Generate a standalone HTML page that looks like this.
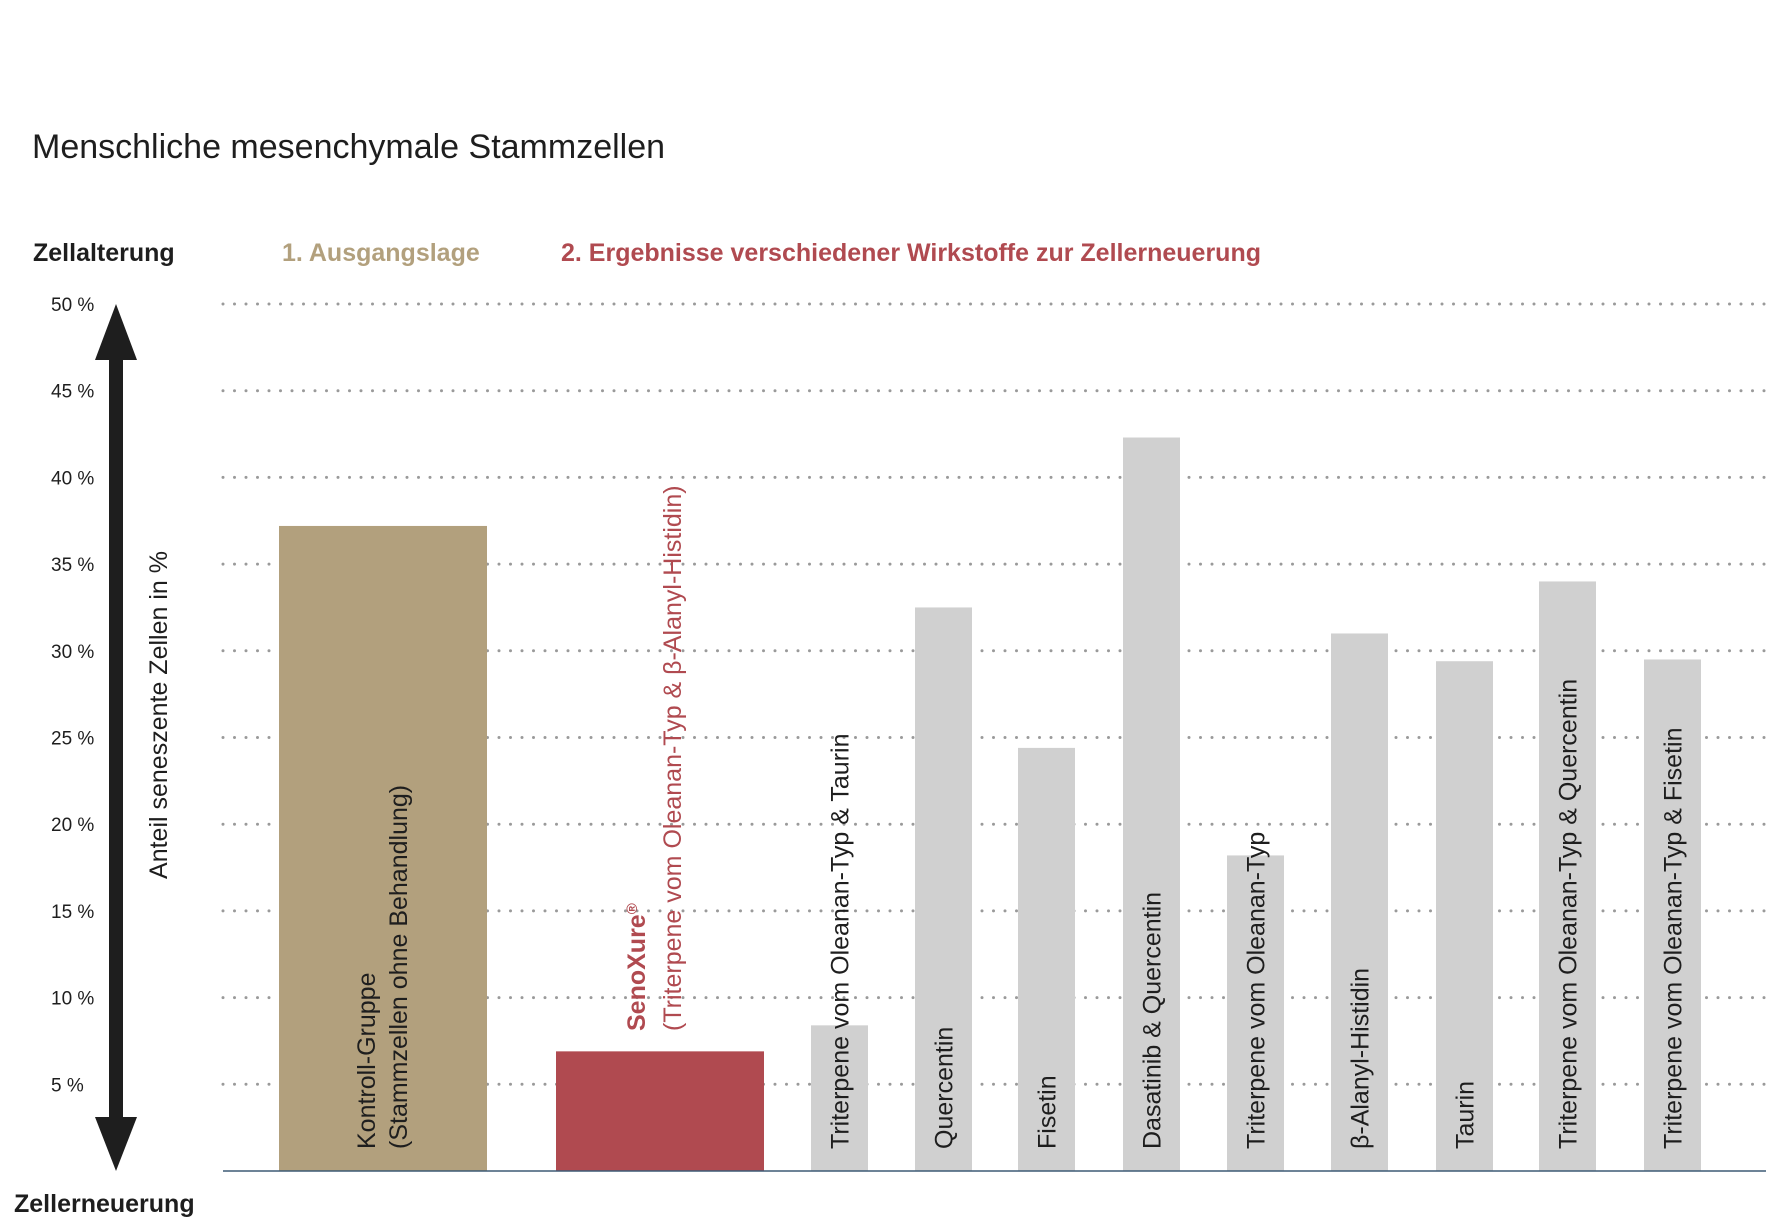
<!DOCTYPE html>
<html><head><meta charset="utf-8"><style>
html,body{margin:0;padding:0;background:#fff;}
svg{display:block;font-family:"Liberation Sans",sans-serif;}
</style></head><body>
<svg id="chart" width="1766" height="1225" viewBox="0 0 1766 1225">
<text x="32" y="158" font-size="34" fill="#1e1e1e">Menschliche mesenchymale Stammzellen</text>
<text x="33" y="261" font-size="25" font-weight="bold" fill="#1e1e1e">Zellalterung</text>
<text x="282" y="261" font-size="25" font-weight="bold" fill="#b2a07d">1. Ausgangslage</text>
<text x="561" y="261" font-size="25" font-weight="bold" fill="#b04a50">2. Ergebnisse verschiedener Wirkstoffe zur Zellerneuerung</text>
<text x="14" y="1212" font-size="25" font-weight="bold" fill="#1e1e1e">Zellerneuerung</text>
<g>
<rect x="109" y="355" width="14" height="766" fill="#1e1e1e"/>
<polygon points="116,304 137,360 95,360" fill="#1e1e1e"/>
<polygon points="116,1171 137,1117 95,1117" fill="#1e1e1e"/>
</g>
<text transform="translate(167,715) rotate(-90)" text-anchor="middle" font-size="25" fill="#1e1e1e">Anteil seneszente Zellen in %</text>
<g id="grid"></g>
<g id="bars"></g>
<line x1="223" y1="1171" x2="1766" y2="1171" stroke="#3d5a75" stroke-width="1.5"/>
</svg>
<script>
const ticks = [5,10,15,20,25,30,35,40,45,50];
const tickLabels = ["5 %","10 %","15 %","20 %","25 %","30 %","35 %","40 %","45 %","50 %"];
const categories = ["Kontroll-Gruppe","SenoXure","Triterpene vom Oleanan-Typ & Taurin","Quercentin","Fisetin","Dasatinib & Quercentin","Triterpene vom Oleanan-Typ","β-Alanyl-Histidin","Taurin","Triterpene vom Oleanan-Typ & Quercentin","Triterpene vom Oleanan-Typ & Fisetin"];
const values = [37.2,6.9,8.4,32.5,24.4,42.3,18.2,31.0,29.4,34.0,29.5];

const NS="http://www.w3.org/2000/svg";
const y0=1171, pxPer=(1171-304)/50;
const y=v=>y0-v*pxPer;
const barX=[279,556,811,915,1018,1123,1227,1331,1436,1539,1644];
const barW=i=>i<2?208:57;
const colors=i=>i===0?"#b2a07d":(i===1?"#b04a50":"#d0d0d0");
function mk(tag,attrs){const e=document.createElementNS(NS,tag);for(const k in attrs)e.setAttribute(k,attrs[k]);return e;}
const grid=document.getElementById('grid'), bars=document.getElementById('bars');
ticks.forEach((t,i)=>{
  const l=mk('line',{x1:223,x2:1766,y1:y(t),y2:y(t),stroke:'#9a9a9a','stroke-width':3,'stroke-dasharray':'0 11.5','stroke-linecap':'round'});
  
  
  grid.appendChild(l);
  const tx=mk('text',{x:51,y:y(t)+7,'font-size':19,fill:'#1e1e1e'});
  tx.textContent=tickLabels[i];
  
  
  grid.appendChild(tx);
});
values.forEach((v,i)=>{
  const r=mk('rect',{x:barX[i],y:y(v),width:barW(i),height:y0-y(v),fill:colors(i)});
  
  
  bars.appendChild(r);
  const cx=barX[i]+barW(i)/2;
  if(i===0){
    const t=mk('text',{transform:`translate(${cx},1149) rotate(-90)`,'font-size':25,fill:'#1e1e1e'});
    t.innerHTML='<tspan x="0" dy="-8">Kontroll-Gruppe</tspan><tspan x="0" dy="32">(Stammzellen ohne Behandlung)</tspan>';
    
    
    bars.appendChild(t);
  } else if(i===1){
    const t=mk('text',{transform:`translate(${cx},1031) rotate(-90)`,'font-size':25,fill:'#b04a50'});
    t.innerHTML='<tspan x="0" dy="-15" font-weight="bold">SenoXure<tspan font-size="15" dy="-8">®</tspan></tspan><tspan x="0" dy="44">(Triterpene vom Oleanan-Typ &amp; β-Alanyl-Histidin)</tspan>';
    
    
    bars.appendChild(t);
  } else {
    const t=mk('text',{transform:`translate(${cx+9},1149) rotate(-90)`,'font-size':25,fill:'#1e1e1e'});
    t.textContent=categories[i];
    
    
    bars.appendChild(t);
  }
});
</script>
</body></html>
